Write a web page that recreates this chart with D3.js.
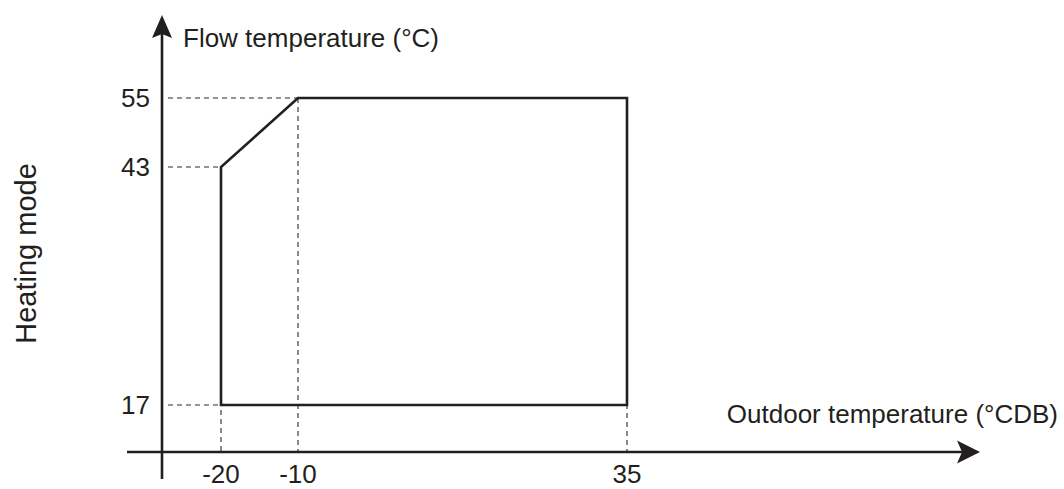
<!DOCTYPE html>
<html>
<head>
<meta charset="utf-8">
<script src="https://cdn.jsdelivr.net/npm/d3@7"></script>
<style>
  html, body { margin: 0; padding: 0; background: #fff; }
  svg { display: block; }
  text { font-family: "Liberation Sans", Arial, Helvetica, sans-serif; fill: #231f20; }
</style>
</head>
<body>
<svg id="chart" width="1064" height="489"></svg>
<script>
// ---- data ----
const xTicks = [-20, -10, 35];
const yTicks = [17, 43, 55];
const envelopeX = [-20, -20, -10, 35, 35];
const envelopeY = [17, 43, 55, 55, 17];
const xTitle = "Outdoor temperature (°CDB)";
const yTitle = "Flow temperature (°C)";
const sideTitle = "Heating mode";

// ---- layout ----
const originX = 162, originY = 452;
const ink = "#231f20";

const svg = d3.select("#chart");

// schematic (piecewise) scales
const x = d3.scaleLinear().domain(xTicks).range([221, 298, 627]);
const y = d3.scaleLinear().domain(yTicks).range([405, 167, 98]);

const pts = envelopeX.map((v, i) => [x(v), y(envelopeY[i])]);

// dashed guide lines
const dash = svg.append("g").attr("stroke", "#2a2a2a").attr("stroke-width", 1.1)
  .attr("stroke-dasharray", "5,4").attr("fill", "none");
yTicks.forEach(v => {
  const xs = pts.filter(p => Math.abs(p[1] - y(v)) < 0.01).map(p => p[0]);
  dash.append("line").attr("x1", originX + 6).attr("x2", d3.min(xs)).attr("y1", y(v)).attr("y2", y(v));
});
xTicks.forEach(v => {
  const ys = pts.filter(p => Math.abs(p[0] - x(v)) < 0.01).map(p => p[1]);
  dash.append("line").attr("x1", x(v)).attr("x2", x(v)).attr("y1", d3.min(ys)).attr("y2", originY);
});

// envelope polygon
svg.append("path")
  .attr("d", d3.line()(pts) + "Z")
  .attr("fill", "none").attr("stroke", ink).attr("stroke-width", 2.6)
  .attr("stroke-linejoin", "miter");

// axes
svg.append("line").attr("x1", 127).attr("x2", 962).attr("y1", originY).attr("y2", originY)
  .attr("stroke", ink).attr("stroke-width", 2.6);
svg.append("line").attr("x1", originX).attr("x2", originX).attr("y1", 479).attr("y2", 34)
  .attr("stroke", ink).attr("stroke-width", 2.6);

// arrow heads
svg.append("path")
  .attr("d", `M980,${originY} L957,${originY - 11.5} L962,${originY} L957,${originY + 11.5} Z`)
  .attr("fill", ink);
svg.append("path")
  .attr("d", `M${originX},15 L${originX - 10},38 L${originX},34 L${originX + 10},38 Z`)
  .attr("fill", ink);

// tick labels
svg.append("g").selectAll("text").data(xTicks).join("text")
  .attr("x", d => x(d)).attr("y", 483)
  .attr("text-anchor", "middle").attr("font-size", 26)
  .text(d => d);
svg.append("g").selectAll("text").data(yTicks).join("text")
  .attr("x", 150).attr("y", d => y(d) + 9.3)
  .attr("text-anchor", "end").attr("font-size", 26)
  .text(d => d);

// titles
svg.append("text").attr("x", 183).attr("y", 47).attr("font-size", 26).text(yTitle);
svg.append("text").attr("x", 1058).attr("y", 423).attr("text-anchor", "end").attr("font-size", 26).text(xTitle);
svg.append("text").attr("transform", "translate(36,253.5) rotate(-90)")
  .attr("text-anchor", "middle").attr("font-size", 29).text(sideTitle);
</script>
</body>
</html>
